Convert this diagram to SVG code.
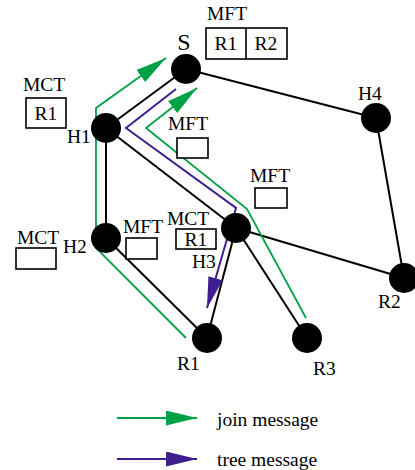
<svg xmlns="http://www.w3.org/2000/svg" width="415" height="470" viewBox="0 0 415 470">
<style>
.edge{stroke:#000;stroke-width:2;fill:none}
.node{fill:#000}
.lbl{font-family:"Liberation Serif",serif;font-size:19.5px;fill:#000}
.big{font-size:24px}
.box{fill:#fff;stroke:#000;stroke-width:1.6}
.join{stroke:#00a046;stroke-width:1.8;fill:none}
.tree{stroke:#3f1f8f;stroke-width:2;fill:none}
</style>
<defs>
<marker id="ag" markerUnits="userSpaceOnUse" markerWidth="32" markerHeight="16" refX="31" refY="7.5" orient="auto"><path d="M0,0 L31,7.5 L0,15 z" fill="#00a046"/></marker>
<marker id="ap" markerUnits="userSpaceOnUse" markerWidth="32" markerHeight="16" refX="31" refY="7.5" orient="auto"><path d="M0,0 L31,7.5 L0,15 z" fill="#3f1f8f"/></marker>
</defs>
<rect width="415" height="470" fill="#fff"/>
<g id="connectors">
<line class="edge" x1="186" y1="69" x2="106" y2="128"/>
<line class="edge" x1="186" y1="69" x2="376" y2="118"/>
<line class="edge" x1="106" y1="128" x2="106" y2="238"/>
<line class="edge" x1="106" y1="128" x2="236" y2="228"/>
<line class="edge" x1="106" y1="238" x2="207" y2="338"/>
<line class="edge" x1="236" y1="228" x2="207" y2="338"/>
<line class="edge" x1="236" y1="228" x2="307" y2="338"/>
<line class="edge" x1="236" y1="228" x2="404" y2="278"/>
<line class="edge" x1="376" y1="118" x2="404" y2="278"/>
<polyline class="join" points="186,338 96,248 96,108 166,58" marker-end="url(#ag)"/>
<polyline class="join" points="306,318 247,209 146,128 197,88" marker-end="url(#ag)"/>
<polyline class="tree" points="176,89 126,128 236,208 207,308" marker-end="url(#ap)"/>
</g>
<g id="S"><circle class="node" cx="186" cy="69" r="15"/><text class="lbl big" x="184" y="50" text-anchor="middle">S</text></g>
<g id="S-MFT"><text class="lbl" x="207" y="20">MFT</text><rect class="box" x="206" y="28" width="81" height="31"/><line x1="246" y1="28" x2="246" y2="59" stroke="#000" stroke-width="1.6"/><text class="lbl" x="226" y="50" text-anchor="middle">R1</text><text class="lbl" x="266" y="50" text-anchor="middle">R2</text></g>
<g id="H1"><circle class="node" cx="106" cy="128" r="15"/><text class="lbl" x="67" y="143">H1</text></g>
<g id="H1-MCT"><text class="lbl" x="23" y="91">MCT</text><rect class="box" x="26" y="98" width="40" height="30"/><text class="lbl" x="46" y="120" text-anchor="middle">R1</text></g>
<g id="H1-MFT"><text class="lbl" x="168" y="130">MFT</text><rect class="box" x="177" y="138" width="31" height="20"/></g>
<g id="H2"><circle class="node" cx="106" cy="238" r="15"/><text class="lbl" x="63" y="253">H2</text></g>
<g id="H2-MCT"><text class="lbl" x="17" y="244">MCT</text><rect class="box" x="16" y="248" width="40" height="21"/></g>
<g id="H2-MFT"><text class="lbl" x="123" y="233">MFT</text><rect class="box" x="126" y="238" width="31" height="21"/></g>
<g id="H3"><circle class="node" cx="236" cy="228" r="15"/><text class="lbl" x="192" y="268">H3</text></g>
<g id="H3-MCT"><text class="lbl" x="167" y="225">MCT</text><rect class="box" x="176" y="229" width="40" height="20"/><text class="lbl" x="196" y="246" text-anchor="middle">R1</text></g>
<g id="H3-MFT"><text class="lbl" x="250" y="182">MFT</text><rect class="box" x="255" y="188" width="32" height="20"/></g>
<g id="H4"><circle class="node" cx="376" cy="118" r="15"/><text class="lbl" x="358" y="100">H4</text></g>
<g id="R1"><circle class="node" cx="207" cy="338" r="15"/><text class="lbl" x="177" y="370">R1</text></g>
<g id="R2"><circle class="node" cx="404" cy="278" r="15"/><text class="lbl" x="378" y="308">R2</text></g>
<g id="R3"><circle class="node" cx="307" cy="338" r="15"/><text class="lbl" x="313" y="375">R3</text></g>
<g id="legend">
<line class="join" x1="117" y1="418" x2="197" y2="418" marker-end="url(#ag)"/>
<text class="lbl" x="217" y="426">join message</text>
<line class="tree" x1="117" y1="459" x2="197" y2="459" marker-end="url(#ap)"/>
<text class="lbl" x="217" y="466">tree message</text>
</g>
</svg>
